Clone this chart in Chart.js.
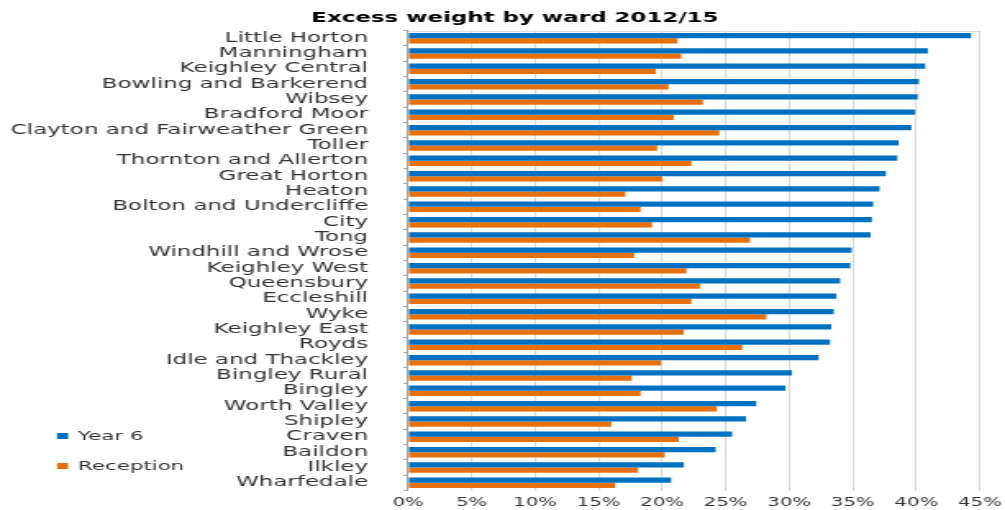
<!DOCTYPE html>
<html>
<head>
<meta charset="utf-8">
<script src="https://cdn.jsdelivr.net/npm/chart.js@4/dist/chart.umd.min.js"></script>
<style>
  html, body { margin: 0; padding: 0; background: #ffffff; overflow: hidden; }
  #wrap { width: 613px; height: 510px; transform-origin: 0 0; transform: scaleX(1.6395); }
  #c { display: block; }
</style>
</head>
<body>
<div id="wrap"><canvas id="c" width="613" height="510" style="width:613px;height:510px"></canvas></div>
<script>
const categories = [
  'Little Horton', 'Manningham', 'Keighley Central', 'Bowling and Barkerend', 'Wibsey',
  'Bradford Moor', 'Clayton and Fairweather Green', 'Toller', 'Thornton and Allerton', 'Great Horton',
  'Heaton', 'Bolton and Undercliffe', 'City', 'Tong', 'Windhill and Wrose',
  'Keighley West', 'Queensbury', 'Eccleshill', 'Wyke', 'Keighley East',
  'Royds', 'Idle and Thackley', 'Bingley Rural', 'Bingley', 'Worth Valley',
  'Shipley', 'Craven', 'Baildon', 'Ilkley', 'Wharfedale'
];
const year6 = [
  44.3, 40.9, 40.7, 40.2, 40.1,
  39.9, 39.6, 38.6, 38.5, 37.6,
  37.1, 36.6, 36.5, 36.4, 34.9,
  34.8, 34.0, 33.7, 33.5, 33.3,
  33.2, 32.3, 30.2, 29.7, 27.4,
  26.6, 25.5, 24.2, 21.7, 20.7
];
const reception = [
  21.2, 21.5, 19.5, 20.5, 23.2,
  20.9, 24.5, 19.6, 22.3, 20.0,
  17.1, 18.3, 19.2, 26.9, 17.8,
  21.9, 23.0, 22.3, 28.2, 21.7,
  26.3, 19.9, 17.6, 18.3, 24.3,
  16.0, 21.3, 20.2, 18.1, 16.3
];
const xTickLabels = ['0%', '5%', '10%', '15%', '20%', '25%', '30%', '35%', '40%', '45%'];
const seriesNames = ['Year 6', 'Reception'];
const titleText = 'Excess weight by ward 2012/15';

const FONT = "'DejaVu Sans', Verdana, sans-serif";
const TEXT = '#333333';

const topBorder = {
  id: 'topBorder',
  afterLayout(chart) {
    // let the long category labels use the full left margin
    if (chart.scales.y) chart.scales.y.left = 0;
  },
  afterDatasetsDraw(chart) {
    const { ctx, chartArea } = chart;
    ctx.save();
    ctx.strokeStyle = '#d9d9d9';
    ctx.lineWidth = 1;
    ctx.beginPath();
    ctx.moveTo(chartArea.left, Math.round(chartArea.top) + 0.5);
    ctx.lineTo(chartArea.right, Math.round(chartArea.top) + 0.5);
    ctx.stroke();
    ctx.restore();
  }
};

const sideLegend = {
  id: 'sideLegend',
  afterDraw(chart) {
    const { ctx } = chart;
    const rows = [436, 466];
    ctx.save();
    ctx.font = '13px ' + FONT;
    ctx.textBaseline = 'middle';
    ctx.textAlign = 'left';
    chart.data.datasets.forEach((ds, i) => {
      const y = rows[i];
      ctx.fillStyle = ds.backgroundColor;
      ctx.fillRect(34.8, y - 3, 6.7, 6);
      ctx.fillStyle = TEXT;
      ctx.fillText(ds.label, 47.6, y + 0.5);
    });
    ctx.restore();
  }
};

new Chart(document.getElementById('c'), {
  type: 'bar',
  data: {
    labels: categories,
    datasets: [
      { label: seriesNames[0], data: year6, backgroundColor: '#0070C0', borderWidth: 0 },
      { label: seriesNames[1], data: reception, backgroundColor: '#E8700C', borderWidth: 0 }
    ]
  },
  options: {
    indexAxis: 'y',
    responsive: false,
    animation: false,
    devicePixelRatio: 1,
    categoryPercentage: 0.68,
    barPercentage: 1.0,
    layout: { padding: { left: 30.5, right: 15.3, top: 0, bottom: 0 } },
    plugins: {
      legend: { display: false },
      tooltip: { enabled: false },
      title: {
        display: true,
        text: titleText,
        color: '#000000',
        font: { family: FONT, size: 14, weight: 'bold' },
        padding: { top: 9.6, bottom: 4.1 }
      }
    },
    scales: {
      x: {
        min: 0,
        max: 45,
        ticks: {
          stepSize: 5,
          color: TEXT,
          font: { family: FONT, size: 12 },
          padding: 5.5,
          callback: (v, i) => xTickLabels[i]
        },
        grid: { color: '#d9d9d9', lineWidth: 1, drawTicks: false },
        border: { display: false },
        afterFit(scale) { scale.height = 19.5; scale.paddingLeft = 0; scale.paddingRight = 0; }
      },
      y: {
        ticks: {
          color: TEXT,
          font: { family: FONT, size: 14 },
          padding: 21.4,
          autoSkip: false
        },
        grid: { drawOnChartArea: false, color: '#a6a6a6', tickLength: 3 },
        border: { display: true, color: '#a6a6a6', width: 1 },
        afterFit(scale) { scale.width = 218.4; scale.paddingTop = 0; scale.paddingBottom = 0; }
      }
    }
  },
  plugins: [topBorder, sideLegend]
});
</script>
</body>
</html>
